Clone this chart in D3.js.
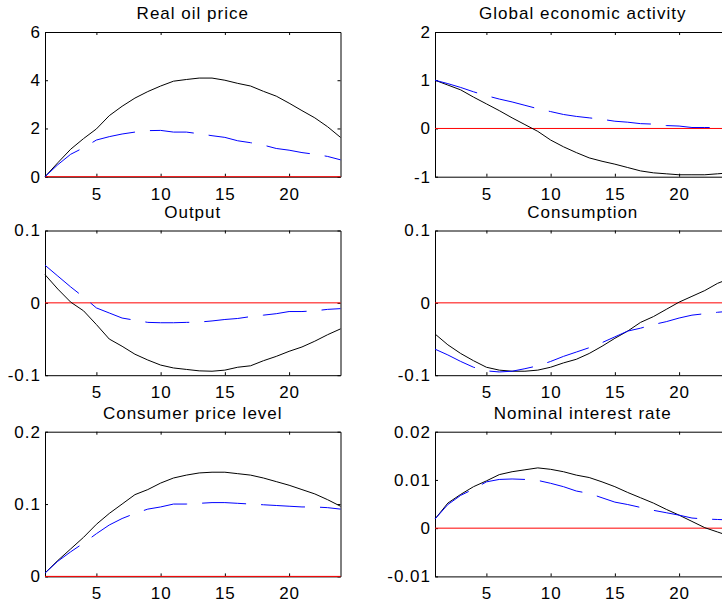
<!DOCTYPE html>
<html>
<head>
<meta charset="utf-8">
<script src="https://cdn.jsdelivr.net/npm/d3@7"></script>
<style>
  html, body { margin: 0; padding: 0; background: #fff; }
  svg { display: block; }
  text { font-family: "Liberation Sans", Arial, sans-serif; }
</style>
</head>
<body>
<script>
// ---------- data ----------
const periods = [1,2,3,4,5,6,7,8,9,10,11,12,13,14,15,16,17,18,19,20,21,22,23,24];
const xTicks = [5, 10, 15, 20];

const titles = ["Real oil price", "Global economic activity", "Output", "Consumption", "Consumer price level", "Nominal interest rate"];

const yDomains = [[0, 6], [-1, 2], [-0.1, 0.1], [-0.1, 0.1], [0, 0.2], [-0.01, 0.02]];
const yTickValues = [[0, 2, 4, 6], [-1, 0, 1, 2], [-0.1, 0, 0.1], [-0.1, 0, 0.1], [0, 0.1, 0.2], [-0.01, 0, 0.01, 0.02]];
const yTickLabels = [["0", "2", "4", "6"], ["-1", "0", "1", "2"], ["-0.1", "0", "0.1"], ["-0.1", "0", "0.1"], ["0", "0.1", "0.2"], ["-0.01", "0", "0.01", "0.02"]];

// solid black series
const oilSolid = [0, 0.58, 1.14, 1.58, 1.98, 2.53, 2.92, 3.26, 3.53, 3.76, 3.96, 4.03, 4.09, 4.09, 4.0, 3.87, 3.76, 3.54, 3.34, 3.05, 2.74, 2.44, 2.07, 1.63];
const gdaSolid = [1.0, 0.9, 0.8, 0.65, 0.51, 0.37, 0.22, 0.08, -0.06, -0.24, -0.38, -0.5, -0.61, -0.68, -0.74, -0.81, -0.88, -0.92, -0.94, -0.96, -0.96, -0.96, -0.94, -0.92];
const outSolid = [0.039, 0.019, 0.001, -0.011, -0.030, -0.050, -0.060, -0.071, -0.079, -0.086, -0.090, -0.092, -0.094, -0.0945, -0.093, -0.089, -0.087, -0.080, -0.074, -0.067, -0.061, -0.053, -0.044, -0.036];
const conSolid = [-0.043, -0.058, -0.070, -0.080, -0.089, -0.093, -0.0945, -0.0945, -0.093, -0.089, -0.083, -0.078, -0.070, -0.060, -0.049, -0.039, -0.027, -0.019, -0.009, 0.001, 0.009, 0.017, 0.027, 0.034];
const cpiSolid = [0.0046, 0.022, 0.038, 0.054, 0.072, 0.087, 0.100, 0.113, 0.120, 0.129, 0.136, 0.140, 0.143, 0.144, 0.144, 0.142, 0.140, 0.136, 0.131, 0.126, 0.120, 0.114, 0.106, 0.097];
const rateSolid = [0.0019, 0.0052, 0.0070, 0.0086, 0.0098, 0.0111, 0.0117, 0.0121, 0.0125, 0.0122, 0.0117, 0.0110, 0.0105, 0.0096, 0.0086, 0.0074, 0.0063, 0.0052, 0.0039, 0.0027, 0.0014, 0.0001, -0.0008, -0.0017];

// dashed blue series
const oilDash = [0, 0.5, 0.93, 1.2, 1.52, 1.66, 1.77, 1.85, 1.91, 1.92, 1.85, 1.85, 1.78, 1.7, 1.63, 1.49, 1.41, 1.31, 1.17, 1.1, 1.0, 0.93, 0.84, 0.70];
const gdaDash = [1.0, 0.93, 0.85, 0.76, 0.68, 0.61, 0.55, 0.48, 0.41, 0.35, 0.29, 0.25, 0.22, 0.19, 0.15, 0.13, 0.10, 0.09, 0.06, 0.05, 0.02, 0.02, 0.02, 0.01];
const outDash = [0.052, 0.037, 0.022, 0.008, -0.007, -0.014, -0.021, -0.024, -0.027, -0.0275, -0.0275, -0.027, -0.0266, -0.025, -0.023, -0.0216, -0.019, -0.017, -0.015, -0.012, -0.012, -0.011, -0.009, -0.008];
const conDash = [-0.064, -0.072, -0.081, -0.089, -0.094, -0.0955, -0.0945, -0.091, -0.087, -0.081, -0.074, -0.068, -0.062, -0.055, -0.047, -0.039, -0.035, -0.030, -0.026, -0.021, -0.017, -0.015, -0.013, -0.0115];
const cpiDash = [0.0046, 0.021, 0.034, 0.046, 0.059, 0.071, 0.080, 0.087, 0.093, 0.096, 0.100, 0.100, 0.101, 0.102, 0.102, 0.101, 0.100, 0.099, 0.098, 0.097, 0.096, 0.096, 0.095, 0.093];
const rateDash = [0.0019, 0.0049, 0.0068, 0.0081, 0.0096, 0.0101, 0.0102, 0.0101, 0.0099, 0.0093, 0.0086, 0.0077, 0.0072, 0.0063, 0.0054, 0.0049, 0.0043, 0.0037, 0.0032, 0.0027, 0.0021, 0.0019, 0.0018, 0.0017];

const solidSeries = [oilSolid, gdaSolid, outSolid, conSolid, cpiSolid, rateSolid];
const dashSeries = [oilDash, gdaDash, outDash, conDash, cpiDash, rateDash];

// ---------- layout ----------
const W = 722, H = 606;
const colLeft = [45, 435];
const plotW = 295.5;
const rowTop = [32, 230.5, 431.7];
const plotH = 144.7;

const svg = d3.select("body").append("svg")
  .attr("width", W).attr("height", H);

const defs = svg.append("defs");

titles.forEach((title, i) => {
  const col = i % 2, row = Math.floor(i / 2);
  const x0 = colLeft[col], y0 = rowTop[row];
  const g = svg.append("g").attr("transform", `translate(${x0},${y0})`);

  const x = d3.scaleLinear().domain([1, 24]).range([0, plotW]);
  const y = d3.scaleLinear().domain(yDomains[i]).range([plotH, 0]);

  // white background
  g.append("rect").attr("width", plotW).attr("height", plotH).attr("fill", "#fff");

  // axes
  const fontSize = "17px";
  const styleAxis = sel => {
    sel.selectAll("path.domain").attr("stroke", "#000").attr("stroke-width", 1);
    sel.selectAll(".tick line").attr("stroke", "#000");
    sel.selectAll("text").attr("fill", "#000").style("font-size", fontSize).style("letter-spacing", "1px");
  };

  g.append("g").attr("transform", `translate(0,${plotH})`)
    .call(d3.axisBottom(x).tickValues(xTicks).tickSize(-3).tickSizeOuter(0).tickPadding(11).tickFormat(d3.format("d")))
    .call(styleAxis);
  g.append("g")
    .call(d3.axisTop(x).tickValues(xTicks).tickSize(-3).tickSizeOuter(0).tickFormat(""))
    .call(styleAxis);
  const labels = yTickLabels[i];
  g.append("g")
    .call(d3.axisLeft(y).tickValues(yTickValues[i]).tickSize(-3).tickSizeOuter(0).tickPadding(4)
      .tickFormat((d, k) => labels[k]))
    .call(styleAxis);
  g.append("g").attr("transform", `translate(${plotW},0)`)
    .call(d3.axisRight(y).tickValues(yTickValues[i]).tickSize(-3).tickSizeOuter(0).tickFormat(""))
    .call(styleAxis);

  // clip
  const clipId = "clip" + i;
  defs.append("clipPath").attr("id", clipId)
    .append("rect").attr("x", -1).attr("y", -1).attr("width", plotW + 2).attr("height", plotH + 2);

  const plot = g.append("g").attr("clip-path", `url(#${clipId})`);

  // zero line
  plot.append("line")
    .attr("x1", x(1)).attr("x2", x(24))
    .attr("y1", y(0)).attr("y2", y(0))
    .attr("stroke", "#ff0000").attr("stroke-width", 1);

  const line = d3.line().x((d, k) => x(periods[k])).y(d => y(d));

  plot.append("path").datum(solidSeries[i])
    .attr("d", line).attr("fill", "none")
    .attr("stroke", "#000").attr("stroke-width", 1);

  plot.append("path").datum(dashSeries[i])
    .attr("d", line).attr("fill", "none")
    .attr("stroke", "#0000ff").attr("stroke-width", 1)
    .attr("stroke-dasharray", "44,15");

  // title
  g.append("text")
    .attr("x", plotW / 2).attr("y", -13)
    .attr("text-anchor", "middle")
    .style("font-size", "17px").style("letter-spacing", "1px")
    .attr("fill", "#000")
    .text(title);
});
</script>
</body>
</html>
